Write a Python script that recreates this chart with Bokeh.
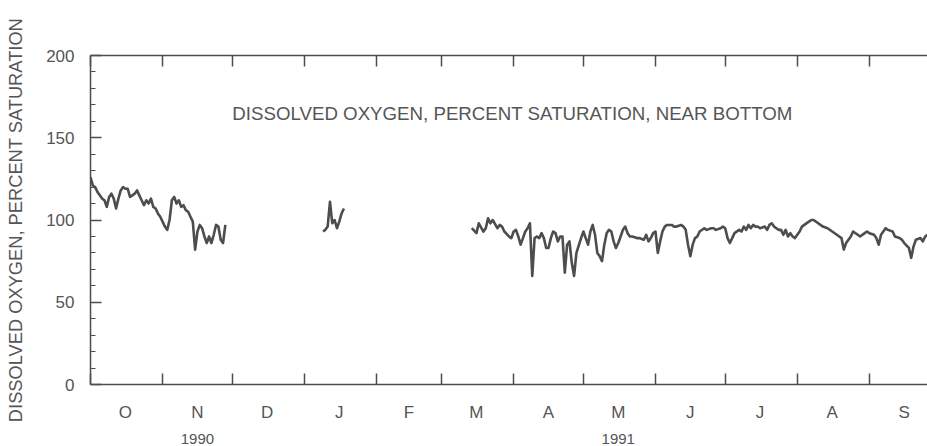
from bokeh.plotting import figure
from bokeh.models import Range1d, LinearAxis, FixedTicker, Label
from bokeh.embed import file_html
from bokeh.resources import INLINE

# x = day of water year (0 = 1 Oct 1990)
month_start = [0, 31, 61, 92, 123, 151, 182, 212, 243, 273, 304, 335, 365]
month_len = [31, 30, 31, 31, 28, 31, 30, 31, 30, 31, 31, 30]
month_labels = ["O", "N", "D", "J", "F", "M", "A", "M", "J", "J", "A", "S"]
year_labels = ["1990", "1991"]
year_month_index = [1, 7]  # label under November 1990 and May 1991

y_major = [0, 50, 100, 150, 200]
y_minor = [10, 20, 30, 40, 60, 70, 80, 90, 110, 120, 130, 140, 160, 170, 180, 190]

# Segment 1: 1 Oct - 28 Nov 1990 (daily)
seg1_days = list(range(0, 59))
seg1_vals = [126, 121, 120, 117, 115, 113, 112, 108, 114, 116, 113, 107, 113, 118, 120,
             119, 119, 114, 115, 116, 118, 115, 112, 109, 112, 110, 113, 108, 107, 104,
             102, 99, 96, 94, 100, 112, 114, 110, 112, 108, 109, 106, 105, 102, 99,
             82, 93, 97, 95, 90, 86, 90, 86, 91, 97, 96, 88, 86, 97]

# Segment 2: Jan 1991
seg2_days = list(range(100, 110))
seg2_vals = [93, 94, 96, 111, 98, 100, 95, 99, 104, 107]

# Segment 3: mid-March to end of September 1991
seg3_days = [164, 166, 167, 169, 170, 171, 172, 173, 175, 176, 177, 178, 180, 181, 182,
             183, 184, 185, 186, 187, 188, 189, 190, 191, 192, 193, 194, 195, 196, 197,
             198, 199, 200, 201, 202, 203, 204, 205, 206, 207, 208, 209, 211, 212, 213,
             214, 215, 216, 217, 218, 219, 220, 221, 222, 223, 224, 225, 226, 227, 228,
             229, 230, 231, 232, 233, 235, 236, 238, 239, 240, 241, 242, 243, 244, 245,
             246, 247, 248, 250, 251, 252, 254, 255, 256, 257, 258, 259, 260, 261, 262,
             264, 265, 267, 268, 269, 271, 272, 273, 274, 275, 276, 277, 279, 280, 281,
             282, 283, 284, 285, 286, 287, 288, 290, 291, 292, 293, 294, 295, 296, 297,
             298, 299, 300, 301, 302, 303, 304, 305, 306, 307, 309, 310, 311, 313, 315,
             317, 319, 321, 323, 324, 325, 327, 328, 330, 331, 333, 334, 335, 337, 338,
             339, 340, 342, 343, 345, 346, 348, 349, 350, 352, 353, 354, 355, 357, 358,
             359, 360]
seg3_vals = [95, 92, 98, 93, 95, 101, 98, 100, 95, 97, 96, 93, 90, 89, 93,
             94, 90, 85, 89, 93, 95, 98, 66, 89, 90, 89, 92, 89, 83, 83,
             89, 93, 92, 87, 90, 90, 68, 85, 87, 74, 66, 80, 89, 93, 89,
             85, 93, 97, 91, 80, 78, 75, 85, 92, 94, 93, 87, 83, 86, 90,
             94, 96, 92, 90, 90, 89, 89, 88, 91, 87, 89, 92, 93, 80, 87,
             93, 96, 97, 97, 96, 96, 97, 96, 94, 85, 78, 85, 89, 90, 93,
             95, 94, 95, 95, 94, 95, 96, 95, 89, 86, 89, 92, 94, 93, 96,
             94, 97, 95, 97, 96, 96, 95, 96, 94, 97, 98, 96, 95, 94, 94,
             91, 94, 90, 92, 90, 89, 91, 93, 96, 97, 99, 100, 100, 98, 96,
             95, 93, 91, 89, 82, 86, 90, 93, 91, 90, 92, 93, 92, 91, 89,
             85, 91, 95, 94, 93, 90, 89, 88, 86, 83, 77, 84, 88, 89, 87,
             90, 91]

FONT = "Liberation Sans"
INK = "#4d4d4d"
TXT = "#555555"

p = figure(width=927, height=446, x_range=Range1d(0, 360), y_range=Range1d(0, 200),
           output_backend="svg", toolbar_location=None,
           min_border_left=90, min_border_right=0, min_border_top=55, min_border_bottom=62)
p.xgrid.visible = False
p.ygrid.visible = False
p.outline_line_color = None
p.background_fill_color = "white"
p.border_fill_color = "white"

for d, v in [(seg1_days, seg1_vals), (seg2_days, seg2_vals), (seg3_days, seg3_vals)]:
    p.line(d, v, line_color=INK, line_width=2.6, line_join="round")

# left axis
ya = p.yaxis[0]
ya.ticker = FixedTicker(ticks=y_major, minor_ticks=y_minor)
ya.major_tick_in = 11
ya.major_tick_out = 0
ya.minor_tick_in = 5
ya.minor_tick_out = 0
ya.axis_line_width = 1.5
ya.axis_line_color = INK
ya.major_tick_line_color = INK
ya.minor_tick_line_color = INK
ya.major_tick_line_width = 1.5
ya.major_label_text_font = FONT
ya.major_label_text_font_size = "17px"
ya.major_label_text_color = TXT
ya.major_label_standoff = 16
ya.axis_label = "DISSOLVED OXYGEN, PERCENT SATURATION"
ya.axis_label_text_font = FONT
ya.axis_label_text_font_size = "18.3px"
ya.axis_label_text_font_style = "normal"
ya.axis_label_text_color = TXT
ya.axis_label_standoff = 17

# bottom axis: month boundary ticks + month letters
month_mid = [s + n // 2 for s, n in zip(month_start, month_len)]
xa = p.xaxis[0]
xa.ticker = FixedTicker(ticks=month_mid, minor_ticks=month_start)
xa.major_label_overrides = {m: lab for m, lab in zip(month_mid, month_labels)}
xa.major_tick_line_color = None
xa.minor_tick_in = 11
xa.minor_tick_out = 0
xa.minor_tick_line_color = INK
xa.minor_tick_line_width = 1.5
xa.axis_line_width = 1.5
xa.axis_line_color = INK
xa.major_label_text_font = FONT
xa.major_label_text_font_size = "17px"
xa.major_label_text_color = TXT
xa.major_label_standoff = 12

# year axis
year_ticks = [month_mid[i] for i in year_month_index]
ya2 = LinearAxis(ticker=FixedTicker(ticks=year_ticks),
                 major_label_overrides={t: y for t, y in zip(year_ticks, year_labels)},
                 axis_line_color=None, major_tick_line_color=None, minor_tick_line_color=None,
                 major_label_text_font=FONT, major_label_text_font_size="15px",
                 major_label_text_color=TXT, major_label_standoff=3)
p.add_layout(ya2, "below")

# top border with month ticks
top = LinearAxis(ticker=FixedTicker(ticks=month_start), major_tick_in=11, major_tick_out=0,
                 minor_tick_line_color=None, major_label_text_color=None,
                 major_label_text_font_size="1px", major_label_standoff=0,
                 axis_line_color=INK, axis_line_width=1.5, major_tick_line_color=INK,
                 major_tick_line_width=1.5)
p.add_layout(top, "above")

p.add_layout(Label(x=61, y=165, text="DISSOLVED OXYGEN, PERCENT SATURATION, NEAR BOTTOM",
                   text_font=FONT, text_font_size="18.7px", text_baseline="middle",
                   text_color=TXT))

open("out.html", "w").write(file_html(p, INLINE))
